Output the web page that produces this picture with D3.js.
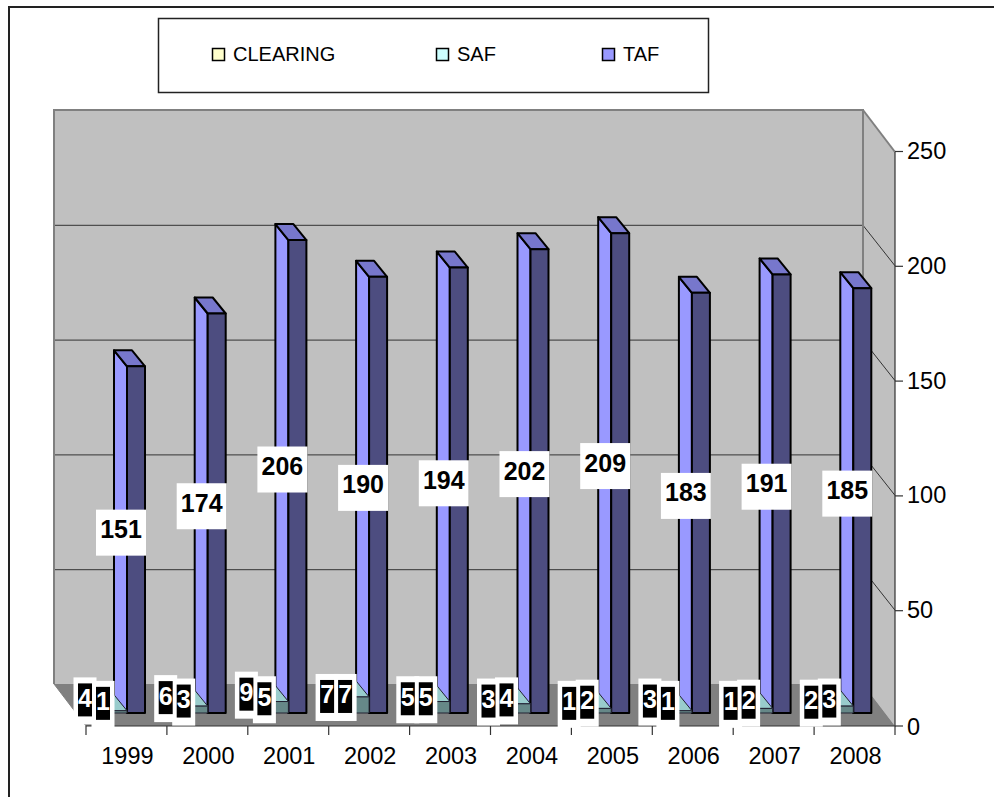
<!DOCTYPE html>
<html><head><meta charset="utf-8">
<script src="https://cdn.jsdelivr.net/npm/d3@7"></script>
<style>html,body{margin:0;background:#fff}svg{display:block;font-family:"Liberation Sans",Arial,sans-serif}</style>
</head><body><svg id="c" width="994" height="797"></svg>
<script>
const years=[1999,2000,2001,2002,2003,2004,2005,2006,2007,2008];
const clearing=[4,6,9,7,5,3,1,3,1,2];
const saf=[1,3,5,7,5,4,2,1,2,3];
const taf=[151,174,206,190,194,202,209,183,191,185];
const yTicks=[0,50,100,150,200,250];
const legendNames=["CLEARING","SAF","TAF"];

const svg=d3.select("#c");
const FL=86,FR=895,F0=726,F250=152,DX=32,DY=42;
const x=d3.scaleBand().domain(years).range([FL,FR]);
const xBar=d3.scaleBand().domain(years).range([127,934]);
const y=d3.scaleLinear().domain([0,250]).range([F0,F250]);
const BAR=18,SX=13,SY=16,BASE=13;
const C={wall:"#c0c0c0",floor:"#808080",edge:"#808080",
 series:[{side:"#ffffcc",top:"#cccc99",front:"#888866"},
         {side:"#ccffff",top:"#99cccc",front:"#668888"},
         {side:"#9999ff",top:"#7777cc",front:"#4d4d80"}]};
const path=p=>"M"+p.map(q=>q.join(",")).join("L")+"Z";
const barLeft=(i,s)=>xBar(years[i])-BAR*(2-s);

// outer frame
svg.append("path").attr("d","M9,797V7H994").attr("fill","none").attr("stroke","#222").attr("stroke-width",2);

// walls
svg.append("path").attr("d",path([[FL-DX,F0-DY],[FR-DX,F0-DY],[FR-DX,F250-DY],[FL-DX,F250-DY]])).attr("fill",C.wall);
svg.append("path").attr("d",path([[FR-DX,F0-DY],[FR,F0],[FR,F250],[FR-DX,F250-DY]])).attr("fill",C.wall);
svg.append("path").attr("d",path([[FL-DX,F0-DY],[FR-DX,F0-DY],[FR,F0],[FL,F0]])).attr("fill",C.floor);
// gridlines
yTicks.slice(1,-1).forEach(t=>{
  svg.append("path").attr("d",`M${FL-DX},${y(t)-DY+.5}H${FR-DX}L${FR},${y(t)-1}`).attr("fill","none").attr("stroke","#333").attr("stroke-width",1);
});
// wall edges
svg.append("path").attr("d",`M${FL-DX},${F0-DY}V${F250-DY}H${FR-DX}V${F0-DY}`).attr("fill","none").attr("stroke",C.edge).attr("stroke-width",2);
svg.append("path").attr("d",`M${FR-DX},${F250-DY}L${FR},${F250}`).attr("fill","none").attr("stroke",C.edge).attr("stroke-width",2);
svg.append("path").attr("d",`M${FL-DX},${F0-DY}L${FL},${F0}`).attr("fill","none").attr("stroke",C.edge).attr("stroke-width",1);

// bars: drawn right-to-left so each later series overlaps the side of the next
const serieses=[clearing,saf,taf];
function bar(g,i,s,v,color){
  const x0=barLeft(i,s), x1=x0+BAR, yb=F0-BASE, yt=yb-(F0-y(v));
  g.append("path").attr("d",path([[x0,yb],[x0,yt],[x0-SX,yt-SY],[x0-SX,yb-SY]])).attr("fill",color.side);
  g.append("path").attr("d",path([[x0,yt],[x1,yt],[x1-SX,yt-SY],[x0-SX,yt-SY]])).attr("fill",color.top);
  g.append("path").attr("d",path([[x0,yb],[x1,yb],[x1,yt],[x0,yt]])).attr("fill",color.front);
}
years.forEach((_,i)=>{ [2,1,0].forEach(s=>{
  const g=svg.append("g").attr("stroke",s==2?"#000":"#223").attr("stroke-width",s==2?2:1).attr("stroke-linejoin","round");
  bar(g,i,s,serieses[s][i],C.series[s]);
}); });

// axes
svg.append("path").attr("d",`M${FL},${F0}H${FR}V${F250}`).attr("fill","none").attr("stroke","#333").attr("stroke-width",1.2);
const gx=svg.append("g");
x.domain().forEach(d=>{gx.append("line").attr("x1",x(d)).attr("x2",x(d)).attr("y1",F0).attr("y2",F0+9).attr("stroke","#333").attr("stroke-width",1.2);
  gx.append("text").attr("x",x(d)+x.bandwidth()/2+1).attr("y",764).attr("text-anchor","middle").attr("font-size",23.5).attr("fill","#000").text(d);});
gx.append("line").attr("x1",FR).attr("x2",FR).attr("y1",F0).attr("y2",F0+9).attr("stroke","#333").attr("stroke-width",1.2);
yTicks.forEach(t=>{
  svg.append("line").attr("x1",FR).attr("x2",FR+8).attr("y1",y(t)-(t?.5:0)).attr("y2",y(t)-(t?.5:0)).attr("stroke","#333").attr("stroke-width",1.2);
  svg.append("text").attr("x",907).attr("y",y(t)+(t?7:8.5)).attr("font-size",23.5).attr("fill","#000").text(t);
});

// data labels
const gl=svg.append("g").attr("font-weight","bold").attr("font-size",25).attr("text-anchor","middle");
const labelPos=(i,s)=>[barLeft(i,s)-SX+7,(F0-BASE)-(F0-y(serieses[s][i]))/2-9.5];
[0,1].forEach(s=>years.forEach((_,i)=>{
  const [cx,cy]=labelPos(i,s);
  gl.append("rect").attr("x",cx-11.5).attr("y",cy-21.5).attr("width",23).attr("height",47).attr("fill","#fff");
}));
[0,1].forEach(s=>years.forEach((_,i)=>{
  const [cx,cy]=labelPos(i,s);
  gl.append("rect").attr("x",cx-7).attr("y",cy-15.5).attr("width",14).attr("height",33).attr("fill","#000");
  gl.append("text").attr("x",cx).attr("y",cy+8).attr("fill","#fff").text(serieses[s][i]);
}));
years.forEach((_,i)=>{
  const [cx,cy]=labelPos(i,2);
  gl.append("rect").attr("x",cx-25).attr("y",cy-20.5).attr("width",50).attr("height",46).attr("fill","#fff");
  gl.append("text").attr("x",cx).attr("y",cy+8).attr("fill","#000").text(taf[i]);
});

// legend
svg.append("rect").attr("x",158.5).attr("y",18.5).attr("width",550).attr("height",74).attr("fill","#fff").attr("stroke","#222").attr("stroke-width",1.5);
const legX=d3.scaleOrdinal().domain(legendNames).range([212,436,602]);
const legFill=["#ffffcc","#ccffff","#9999ff"];
legendNames.forEach((n,i)=>{
  svg.append("rect").attr("x",legX(n)+.5).attr("y",48.5).attr("width",12).attr("height",12).attr("fill",legFill[i]).attr("stroke","#000").attr("stroke-width",1.5);
  svg.append("text").attr("x",legX(n)+21).attr("y",61).attr("font-size",20).attr("fill","#000").text(n);
});
</script></body></html>
